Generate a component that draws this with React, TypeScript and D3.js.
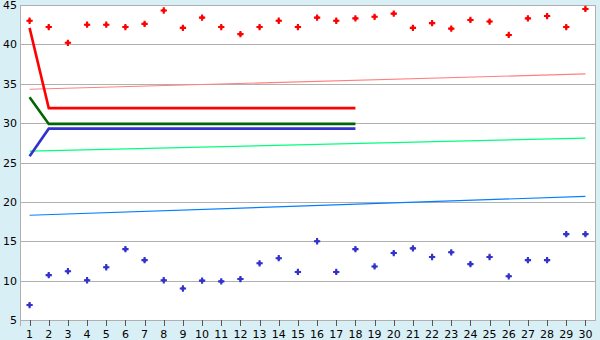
import React from "react";
import * as d3 from "d3";

const categories: string[] = Array.from({ length: 30 }, (_, i) => String(i + 1));
const yTicks: number[] = [5, 10, 15, 20, 25, 30, 35, 40, 45];

const redPoints: number[] = [
  43.0, 42.2, 40.2, 42.5, 42.5, 42.2, 42.6, 44.3, 42.1, 43.4,
  42.2, 41.3, 42.2, 43.0, 42.2, 43.4, 43.0, 43.3, 43.5, 43.9,
  42.1, 42.7, 42.0, 43.1, 42.9, 41.2, 43.3, 43.6, 42.2, 44.5,
];
const bluePoints: number[] = [
  6.9, 10.7, 11.2, 10.05, 11.7, 14.0, 12.6, 10.05, 9.0, 10.0,
  9.9, 10.2, 12.2, 12.85, 11.1, 15.0, 11.1, 14.0, 11.8, 13.5,
  14.1, 13.0, 13.6, 12.1, 13.0, 10.55, 12.6, 12.6, 15.9, 15.9,
];

// thick lines: value at category 1, then constant from 2 to 18
const redLine: number[] = [42.1, ...Array(17).fill(31.9)];
const greenLine: number[] = [33.3, ...Array(17).fill(29.9)];
const blueLine: number[] = [25.8, ...Array(17).fill(29.3)];

// trend lines: [value at category 1, value at category 30]
const pinkTrend: number[] = [34.3, 36.25];
const greenTrend: number[] = [26.45, 28.1];
const blueTrend: number[] = [18.3, 20.7];

const W = 600;
const H = 340;
const left = 20;
const right = 595;
const top = 5;
const bottom = 320;
const BG = "#d9eff6";
const GRID = "#b0b0b0";
const FONT = "DejaVu Sans, Verdana, sans-serif";

export default function App() {
  const x = d3.scaleBand<string>().domain(categories).range([left, right]);
  const y = d3.scaleLinear().domain([5, 45]).range([bottom, top]);
  const cx = (i: number) => (x(categories[i]) as number) + x.bandwidth() / 2;

  const line = d3
    .line<number>()
    .x((_, i) => cx(i))
    .y((d) => y(d));

  const trend = (vals: number[]) =>
    d3
      .line<[number, number]>()
      .x((d) => cx(d[0]))
      .y((d) => y(d[1]))([
      [0, vals[0]],
      [categories.length - 1, vals[1]],
    ]);

  const cross = d3.symbol().type(d3.symbolCross).size(22)() as string;
  const diamond = d3.symbol().type(d3.symbolSquare).size(13)() as string;

  const marker = (key: string, cxv: number, cyv: number, color: string) => (
    <g key={key} transform={`translate(${cxv},${cyv})`} fill={color}>
      <path d={cross} />
      <path d={diamond} transform="rotate(45)" />
    </g>
  );

  return (
    <svg
      width={W}
      height={H}
      style={{ position: "fixed", left: 0, top: 0, display: "block" }}
    >
      <rect x={0} y={0} width={W} height={H} fill={BG} />
      <rect x={left} y={top} width={right - left} height={bottom - top} fill="#ffffff" />
      {yTicks.map((t) => (
        <line
          key={"g" + t}
          x1={left}
          x2={right}
          y1={Math.round(y(t)) + 0.5}
          y2={Math.round(y(t)) + 0.5}
          stroke={GRID}
          strokeWidth={1}
        />
      ))}
      <line x1={left + 0.5} x2={left + 0.5} y1={top} y2={bottom + 6} stroke={GRID} />
      <line x1={right + 0.5} x2={right + 0.5} y1={top} y2={bottom + 1} stroke={GRID} />
      {categories.map((c, i) => (
        <line
          key={"t" + c}
          x1={Math.round(cx(i)) + 0.5}
          x2={Math.round(cx(i)) + 0.5}
          y1={bottom}
          y2={bottom + 6}
          stroke="#555"
        />
      ))}
      {yTicks.map((t) => (
        <text
          key={"yl" + t}
          x={17}
          y={y(t) + 4}
          textAnchor="end"
          fontFamily={FONT}
          fontSize={11}
          fill="#000"
        >
          {t}
        </text>
      ))}
      {categories.map((c, i) => (
        <text
          key={"xl" + c}
          x={cx(i)}
          y={338}
          textAnchor="middle"
          fontFamily={FONT}
          fontSize={11}
          fill="#000"
        >
          {c}
        </text>
      ))}

      <path d={trend(pinkTrend) as string} stroke="#ff8080" strokeWidth={1.2} fill="none" />
      <path d={trend(greenTrend) as string} stroke="#00ff80" strokeWidth={1.2} fill="none" />
      <path d={trend(blueTrend) as string} stroke="#0080ff" strokeWidth={1.2} fill="none" />

      <path d={line(redLine) as string} stroke="#ff0000" strokeWidth={2.6} fill="none" />
      <path d={line(greenLine) as string} stroke="#006600" strokeWidth={2.6} fill="none" />
      <path d={line(blueLine) as string} stroke="#3333cc" strokeWidth={2.6} fill="none" />

      {redPoints.map((v, i) => marker("r" + i, cx(i), y(v), "#ff0000"))}
      {bluePoints.map((v, i) => marker("b" + i, cx(i), y(v), "#3333cc"))}
    </svg>
  );
}
